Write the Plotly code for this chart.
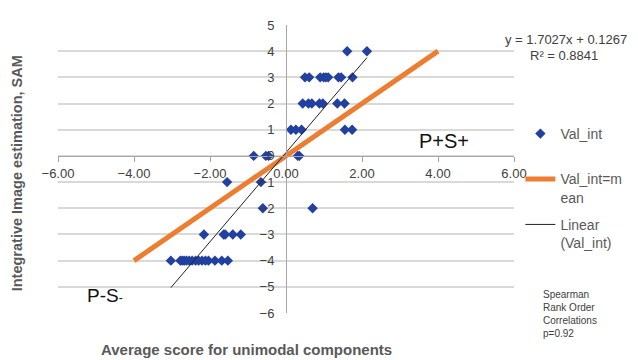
import plotly.graph_objects as go

# Data: average unimodal score (x) vs integrative image estimation (y)
avg_score = [
    1.61, 2.13,
    0.50, 0.61, 0.90, 0.99, 1.05, 1.11, 1.38, 1.45, 1.75,
    0.44, 0.59, 0.68, 0.88, 0.97, 1.35, 1.54,
    0.13, 0.26, 0.41, 1.55, 1.74,
    -0.85, -0.53, -0.46, 0.31, 0.35,
    -1.55, -0.66,
    -0.61, 0.70,
    -2.16, -1.64, -1.60, -1.40, -1.19,
    -3.03, -2.78, -2.73, -2.68, -2.62, -2.55, -2.47, -2.38, -2.30, -2.21, -2.12,
    -2.04, -1.87, -1.69, -1.53,
]
val_int = [
    4, 4,
    3, 3, 3, 3, 3, 3, 3, 3, 3,
    2, 2, 2, 2, 2, 2, 2,
    1, 1, 1, 1, 1,
    0, 0, 0, 0, 0,
    -1, -1,
    -2, -2,
    -3, -3, -3, -3, -3,
    -4, -4, -4, -4, -4, -4, -4, -4, -4, -4, -4,
    -4, -4, -4, -4,
]

# Reference line Val_int = mean
mean_line_x = [-4, 4]
mean_line_y = [-4, 4]

# Linear trendline coefficients (as printed on chart)
slope = 1.7027
intercept = 0.1267
r_squared = 0.8841
spearman_p = 0.92

x_tickvals = [-6, -4, -2, 0, 2, 4, 6]
y_tickvals = [-6, -5, -4, -3, -2, -1, 0, 1, 2, 3, 4, 5]

trend_x = [min(avg_score), max(avg_score)]
trend_y = [slope * v + intercept for v in trend_x]

fig = go.Figure()
fig.add_trace(go.Scatter(
    x=avg_score, y=val_int, mode="markers", name="Val_int<br> ",
    marker=dict(symbol="diamond", size=8, color="#2140A0"),
    legendgroup="a",
))
fig.add_trace(go.Scatter(
    x=mean_line_x, y=mean_line_y, mode="lines", name="Val_int=m<br>ean",
    line=dict(color="#ED7D31", width=5),
    legendgroup="b",
))
fig.add_trace(go.Scatter(
    x=trend_x, y=trend_y, mode="lines", name="Linear<br>(Val_int)",
    line=dict(color="#222222", width=1),
    legendgroup="c",
))

axis_font = dict(family="Liberation Sans, Arial, sans-serif", size=13, color="#404040")
fig.update_layout(
    width=630, height=352,
    margin=dict(l=50, r=124, t=10, b=47),
    paper_bgcolor="white", plot_bgcolor="white",
    font=dict(family="Liberation Sans, Arial, sans-serif", color="#595959"),
    xaxis=dict(
        range=[-6, 6], anchor="free", position=6 / 11,
        showgrid=False, zeroline=False,
        showline=True, linecolor="#a6a6a6", linewidth=1,
        ticks="outside", ticklen=5, tickcolor="#a6a6a6",
        tickvals=x_tickvals, tickformat=".2f", tickfont=axis_font,
    ),
    yaxis=dict(
        range=[-6, 5], anchor="free", position=0.5,
        showgrid=True, gridcolor="#d9d9d9", gridwidth=1.5,
        zeroline=False, showline=True, linecolor="#a6a6a6", linewidth=1,
        ticks="", tickvals=y_tickvals, tickfont=axis_font,
        ticklabelstandoff=9,
    ),
    showlegend=True,
    legend=dict(
        x=1.014, xanchor="left", y=0.677, yanchor="top",
        font=dict(size=14, color="#595959"),
        traceorder="grouped", tracegroupgap=6, valign="top",
        bgcolor="rgba(0,0,0,0)",
    ),
    annotations=[
        dict(text=f"y = {slope}x + {intercept}", xref="paper", yref="paper",
             x=1.114, y=0.95, xanchor="center", yanchor="middle", showarrow=False,
             font=dict(size=13, color="#404040")),
        dict(text=f"R² = {r_squared}", xref="paper", yref="paper",
             x=1.11, y=0.895, xanchor="center", yanchor="middle", showarrow=False,
             font=dict(size=13, color="#404040")),
        dict(text="P+S+", x=4.17, y=0.56, xref="x", yref="y", showarrow=False,
             xanchor="center", yanchor="middle",
             font=dict(size=20, color="#111111")),
        dict(text="P-S<span style='font-size:12px'>-</span>", x=-5.3, y=-5.35,
             xref="x", yref="y", showarrow=False, xanchor="left", yanchor="middle",
             font=dict(size=19, color="#111111")),
        dict(text=f"Spearman<br>Rank Order<br>Correlations<br>p={spearman_p}",
             xref="paper", yref="paper", x=1.059, y=0.09, xanchor="left", yanchor="top",
             align="left", showarrow=False, font=dict(size=10, color="#404040")),
        dict(text="<b>Average score for unimodal components</b>", xref="paper", yref="paper",
             x=(246 - 58) / 456, y=-0.125, xanchor="center", yanchor="middle",
             showarrow=False, font=dict(size=15, color="#595959")),
        dict(text="<b>Integrative Image estimation, SAM</b>", xref="paper", yref="paper",
             x=-0.088, y=(313 - 170) / 295, xanchor="center", yanchor="middle",
             textangle=-90, showarrow=False, font=dict(size=14.5, color="#595959")),
    ],
)

fig.write_html("out.html")
